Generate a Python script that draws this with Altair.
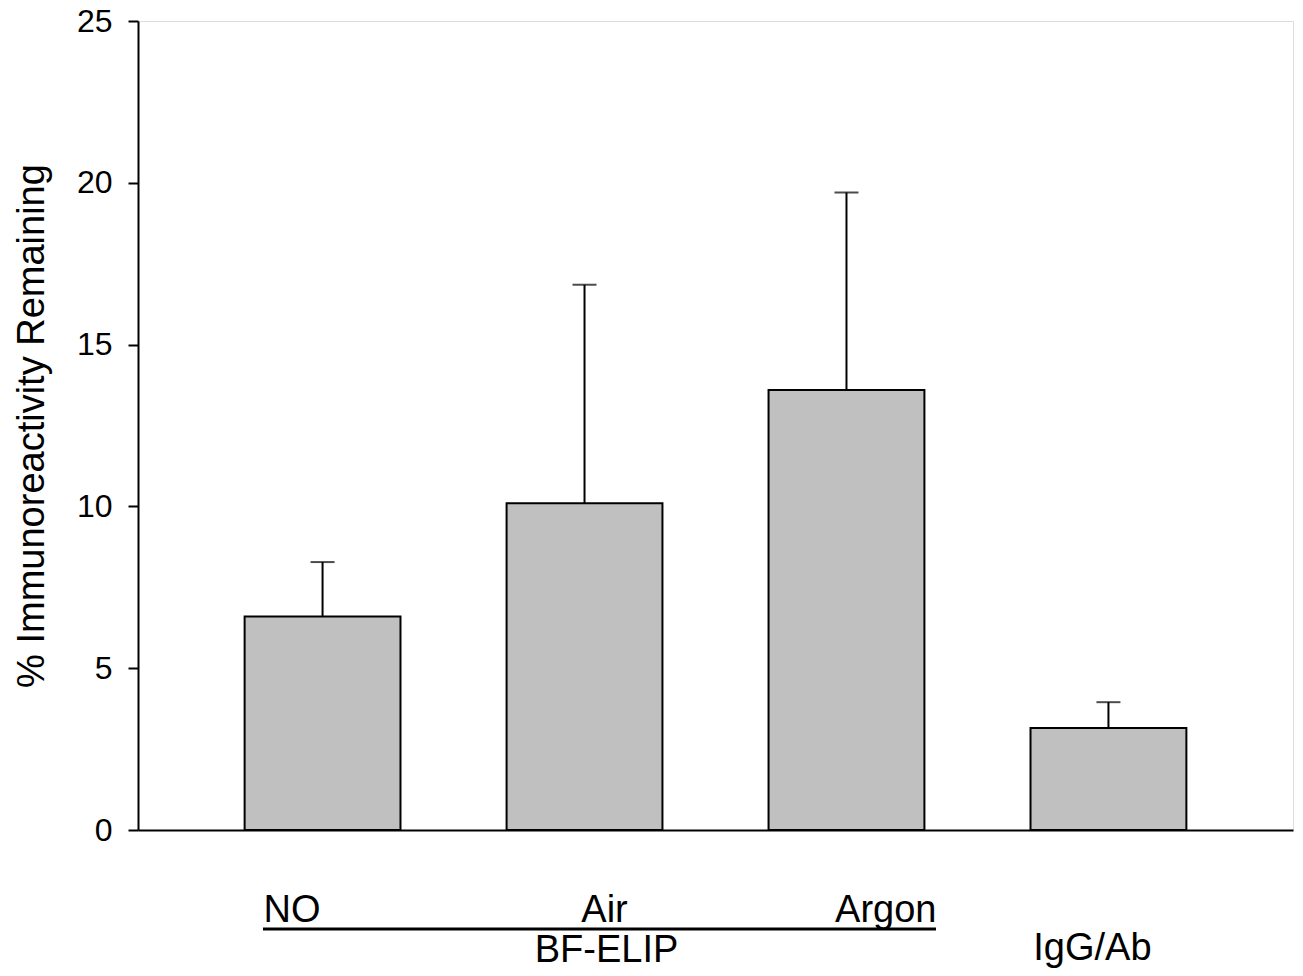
import altair as alt
import pandas as pd

categories = ["NO", "Air", "Argon", "IgG/Ab"]
means = [6.6, 10.1, 13.6, 3.15]
errors = [1.68, 6.75, 6.1, 0.8]

df = pd.DataFrame({
    "cat": categories,
    "mean": means,
    "upper": [m + e for m, e in zip(means, errors)],
})

FONT = "Liberation Sans"

x_enc = alt.X("cat:N", sort=categories,
              scale=alt.Scale(paddingInner=0.405, paddingOuter=0.407),
              axis=alt.Axis(labels=False, ticks=False, title=None, domain=True,
                            domainColor="black", domainWidth=2))
y_enc = alt.Y("mean:Q",
              scale=alt.Scale(domain=[0, 25], nice=False, zero=True),
              axis=alt.Axis(values=[0, 5, 10, 15, 20, 25], grid=False,
                            tickSize=10, tickWidth=2, tickColor="black",
                            domainColor="black", domainWidth=2,
                            labelFont=FONT, labelFontSize=32, labelColor="black",
                            labelPadding=16,
                            title="% Immunoreactivity Remaining",
                            titleFont=FONT, titleFontSize=38, titleFontWeight="normal",
                            titleColor="black", titleX=-87, titleY=404.5))

base = alt.Chart(df)

bars = base.mark_bar(fill="#c0c0c0", stroke="black", strokeWidth=2).encode(x=x_enc, y=y_enc)

err = base.mark_rule(color="black", strokeWidth=2).encode(
    x=alt.X("cat:N", sort=categories), y="mean:Q", y2="upper:Q")

caps = base.mark_tick(color="black", size=24, thickness=2).encode(
    x=alt.X("cat:N", sort=categories), y="upper:Q")

def label(cat, txt, dx, align, ypix):
    d = pd.DataFrame({"cat": [cat], "txt": [txt]})
    return alt.Chart(d).mark_text(font=FONT, fontSize=38, color="black",
                                  align=align, baseline="alphabetic", dx=dx).encode(
        x=alt.X("cat:N", sort=categories), y=alt.value(ypix), text="txt:N")

lab_no = label("NO", "NO", -59, "left", 901)
lab_air = label("Air", "Air", 20, "center", 901)
lab_argon = label("Argon", "Argon", 90, "right", 901)
lab_bf = label("Air", "BF-ELIP", 22, "center", 941)
lab_igg = label("IgG/Ab", "IgG/Ab", -16, "center", 939)

underline = alt.Chart(pd.DataFrame({"a": [0]})).mark_rule(color="black", strokeWidth=3).encode(
    x=alt.value(125), x2=alt.value(798), y=alt.value(908))

chart = alt.layer(bars, err, caps, lab_no, lab_air, lab_argon, lab_bf, lab_igg, underline).properties(
    width=1155, height=809,
    autosize=alt.AutoSizeParams(type="none"),
    padding={"left": 130, "top": 13, "right": 2, "bottom": 140},
).configure_view(strokeWidth=0).configure(background="white")

chart.save("out.html", embed_options={"renderer": "svg", "actions": False})
